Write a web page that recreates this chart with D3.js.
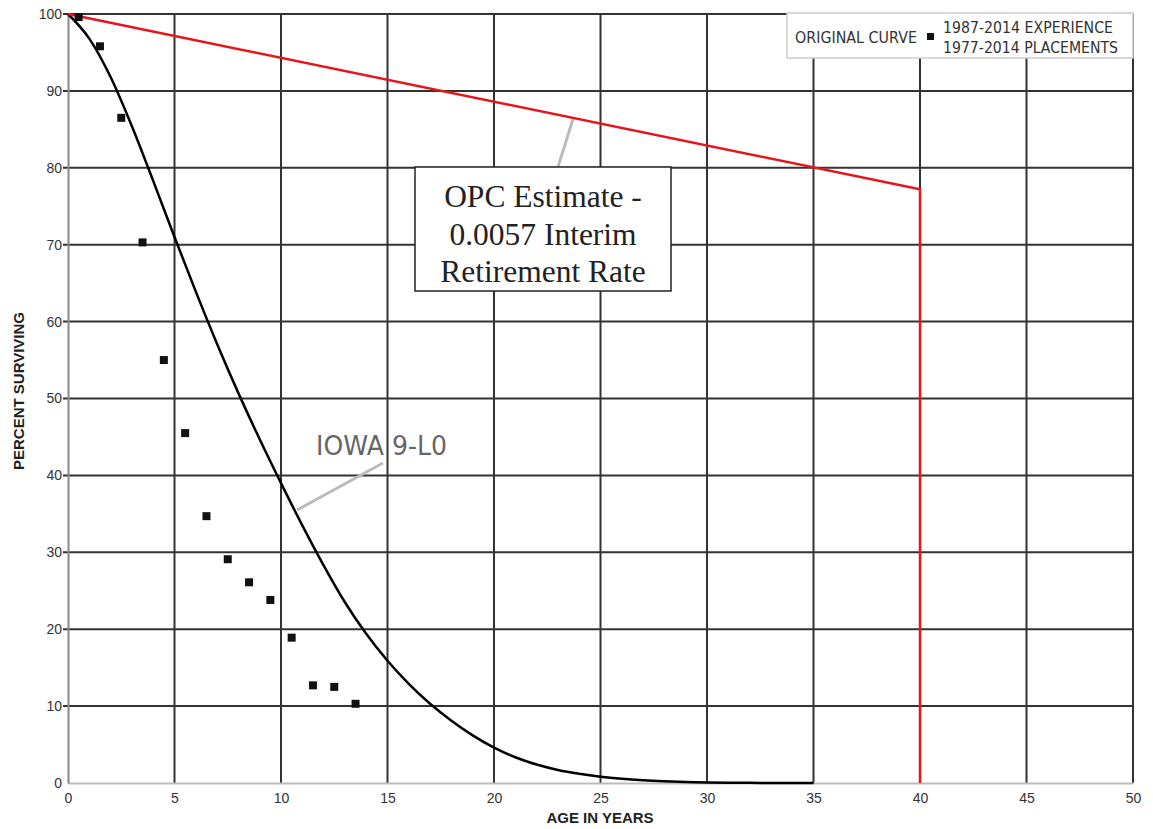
<!DOCTYPE html>
<html>
<head>
<meta charset="utf-8">
<script src="https://cdn.jsdelivr.net/npm/d3@7"></script>
<style>
  body { margin: 0; background: #fff; }
  svg { display: block; }
  .tick text { font-family: "Liberation Sans", Arial, sans-serif; font-size: 14px; fill: #333; }
</style>
</head>
<body>
<script>
var width = 1153,
    height = 829,
    margin = {top: 14, right: 20, bottom: 46, left: 68};

// Iowa 9-L0 curve at each age
var iowaAge = [0, 1, 2, 3, 4, 5, 6, 7, 8, 9, 10, 11, 12, 13, 14, 15, 16, 17, 18, 19, 20,
               21, 22, 23, 24, 25, 26, 27, 28, 29, 30, 31, 32, 33, 34, 35];
var iowaPct = [100, 96.8, 91.8, 85.4, 78.3, 71.0, 63.9, 57.1, 50.7, 44.7, 39.0, 33.5, 28.3, 23.5, 19.4, 15.9, 12.9, 10.3, 8.1, 6.2, 4.6,
               3.35, 2.4, 1.7, 1.2, 0.82, 0.55, 0.36, 0.23, 0.14, 0.08, 0.04, 0.02, 0.01, 0, 0];

// observed 1987-2014 experience
var obsAge = [0.5, 1.5, 2.5, 3.5, 4.5, 5.5, 6.5, 7.5, 8.5, 9.5, 10.5, 11.5, 12.5, 13.5];
var obsPct = [99.6, 95.8, 86.5, 70.3, 55.0, 45.5, 34.7, 29.1, 26.1, 23.8, 18.9, 12.7, 12.5, 10.3];

// OPC estimate, 0.0057 interim retirement rate, truncated at 40 years
var opcAge = [0, 40, 40];
var opcPct = [100, 77.2, 0];

var xTicks = [0, 5, 10, 15, 20, 25, 30, 35, 40, 45, 50];
var yTicks = [0, 10, 20, 30, 40, 50, 60, 70, 80, 90, 100];

var w = 1133 - margin.left,
    h = 783 - margin.top;

var x = d3.scaleLinear().domain([0, 50]).range([0, w]);
var y = d3.scaleLinear().domain([0, 100]).range([h, 0]);

var svg = d3.select("body").append("svg")
    .attr("width", width)
    .attr("height", height);

var g = svg.append("g")
    .attr("transform", "translate(" + margin.left + "," + margin.top + ")");

// grid
g.append("g")
    .selectAll("line")
    .data(xTicks.slice(1))
    .enter().append("line")
    .attr("x1", function(d) { return x(d); })
    .attr("x2", function(d) { return x(d); })
    .attr("y1", 0)
    .attr("y2", h)
    .attr("stroke", "#333")
    .attr("stroke-width", 2);

g.append("g")
    .selectAll("line")
    .data(yTicks.slice(1))
    .enter().append("line")
    .attr("x1", -5)
    .attr("x2", w)
    .attr("y1", function(d) { return y(d); })
    .attr("y2", function(d) { return y(d); })
    .attr("stroke", "#333")
    .attr("stroke-width", 2);

// axes
var xAxis = d3.axisBottom(x).tickValues(xTicks).tickSize(0).tickPadding(10);
var yAxis = d3.axisLeft(y).tickValues(yTicks).tickSize(0).tickPadding(6);

g.append("g")
    .attr("transform", "translate(0," + h + ")")
    .call(xAxis)
    .call(function(s) { s.select(".domain").attr("stroke", "#bbb").attr("stroke-width", 2); });

g.append("g")
    .call(yAxis)
    .call(function(s) { s.select(".domain").attr("stroke", "#888").attr("stroke-width", 2); });

// axis titles
svg.append("text")
    .attr("x", 600)
    .attr("y", 823)
    .attr("text-anchor", "middle")
    .style("font-family", "Liberation Sans, Arial, sans-serif")
    .style("font-size", "15px")
    .style("font-weight", "bold")
    .attr("fill", "#222")
    .text("AGE IN YEARS");

svg.append("text")
    .attr("transform", "translate(24,391) rotate(-90)")
    .attr("text-anchor", "middle")
    .style("font-family", "Liberation Sans, Arial, sans-serif")
    .style("font-size", "15px")
    .style("font-weight", "bold")
    .attr("fill", "#222")
    .text("PERCENT SURVIVING");

// leader lines
g.append("line")
    .attr("x1", 558 - margin.left).attr("y1", 167 - margin.top)
    .attr("x2", 573 - margin.left).attr("y2", 119 - margin.top)
    .attr("stroke", "#bbb").attr("stroke-width", 3);

g.append("line")
    .attr("x1", 383 - margin.left).attr("y1", 463 - margin.top)
    .attr("x2", 297 - margin.left).attr("y2", 510 - margin.top)
    .attr("stroke", "#bbb").attr("stroke-width", 3);

// curves
var line = d3.line()
    .x(function(d) { return x(d[0]); })
    .y(function(d) { return y(d[1]); });

g.append("path")
    .datum(d3.zip(iowaAge, iowaPct))
    .attr("d", line.curve(d3.curveMonotoneX))
    .attr("fill", "none")
    .attr("stroke", "#000")
    .attr("stroke-width", 2.5);

g.append("path")
    .datum(d3.zip(opcAge, opcPct))
    .attr("d", line.curve(d3.curveLinear))
    .attr("fill", "none")
    .attr("stroke", "#e8141c")
    .attr("stroke-width", 2.5);

// observed points
g.selectAll(".pt")
    .data(d3.zip(obsAge, obsPct))
    .enter().append("rect")
    .attr("class", "pt")
    .attr("x", function(d) { return x(d[0]) - 4; })
    .attr("y", function(d) { return y(d[1]) - 4; })
    .attr("width", 8)
    .attr("height", 8)
    .attr("fill", "#111");

// IOWA label
svg.append("text")
    .attr("x", 316)
    .attr("y", 455)
    .attr("textLength", 131)
    .attr("lengthAdjust", "spacingAndGlyphs")
    .style("font-family", "DejaVu Sans, sans-serif")
    .style("font-size", "27px")
    .attr("fill", "#666")
    .text("IOWA 9-L0");

// OPC box
var box = svg.append("g");
box.append("rect")
    .attr("x", 415).attr("y", 167)
    .attr("width", 256).attr("height", 124)
    .attr("fill", "#fff")
    .attr("stroke", "#222")
    .attr("stroke-width", 1.5);

var opcLines = ["OPC Estimate -", "0.0057 Interim", "Retirement Rate"];
box.selectAll("text")
    .data(opcLines)
    .enter().append("text")
    .attr("x", 543)
    .attr("y", function(d, i) { return 207 + i * 37.5; })
    .attr("text-anchor", "middle")
    .style("font-family", "Liberation Serif, Times New Roman, serif")
    .style("font-size", "31.5px")
    .attr("fill", "#222")
    .text(function(d) { return d; });

// legend
var lg = svg.append("g");
lg.append("rect")
    .attr("x", 787).attr("y", 13)
    .attr("width", 346).attr("height", 45)
    .attr("fill", "#fff")
    .attr("stroke", "#ccc")
    .attr("stroke-width", 1.5);

function legendText(tx, ty, len, s) {
    lg.append("text")
        .attr("x", tx).attr("y", ty)
        .attr("textLength", len)
        .attr("lengthAdjust", "spacingAndGlyphs")
        .style("font-family", "DejaVu Sans, sans-serif")
        .style("font-size", "15px")
        .attr("fill", "#333")
        .text(s);
}
legendText(795, 43, 122, "ORIGINAL CURVE");
legendText(943, 33, 170, "1987-2014 EXPERIENCE");
legendText(943, 53, 175, "1977-2014 PLACEMENTS");

lg.append("rect")
    .attr("x", 927).attr("y", 33)
    .attr("width", 7).attr("height", 7)
    .attr("fill", "#111");
</script>
</body>
</html>
